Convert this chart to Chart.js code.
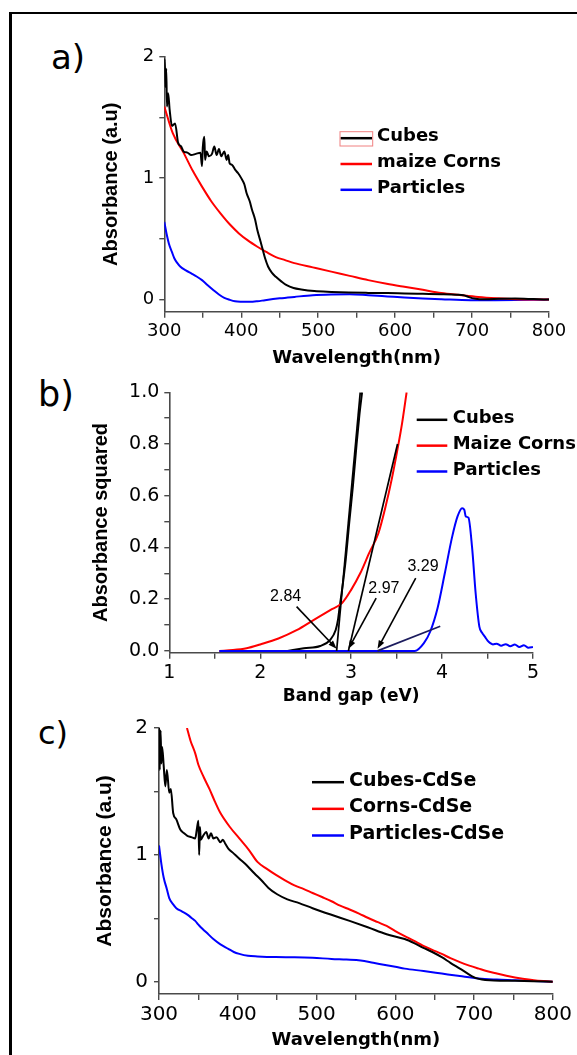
<!DOCTYPE html>
<html>
<head>
<meta charset="utf-8">
<title>UV-Vis absorbance and band gap</title>
<script src="https://cdn.jsdelivr.net/npm/chart.js@4.4.1/dist/chart.umd.min.js"></script>
<style>
  body { margin: 0; background: #fff; width: 577px; height: 1055px; overflow: hidden; position: relative; }
  .frame { position: absolute; left: 9px; top: 12px; width: 620px; height: 1100px; border-left: 3px solid #000; border-top: 2px solid #000; }
  canvas { position: absolute; left: 0; }
  .tag { position: absolute; font-family: 'DejaVu Sans'; line-height: 1; color: #000; }
</style>
</head>
<body>
<div class="frame"></div>
<div class="tag" style="left:51px;top:40px;font-size:34px">a)</div>
<div class="tag" style="left:38px;top:377px;font-size:35px">b)</div>
<div class="tag" style="left:38px;top:717px;font-size:32px">c)</div>
<canvas id="chartA" width="577" height="375" style="top:0"></canvas>
<canvas id="chartB" width="577" height="335" style="top:375px"></canvas>
<canvas id="chartC" width="577" height="345" style="top:710px"></canvas>
<script>
// ---- a) absorbance of the bare structures (wavelength nm / absorbance)
const aCubesNm = [300, 300.5, 301.5, 302.5, 303.5, 305, 307, 310, 314, 318, 322, 325, 330, 335, 341, 347, 349, 350, 352, 353, 355, 358, 362, 365, 368, 371, 374, 378, 381, 383, 385, 388, 392, 396, 400, 404, 407, 411, 414, 418, 421, 425, 428, 431, 435, 440, 445, 452, 459, 468, 478, 495, 517, 540, 565, 590, 612, 636, 660, 680, 689, 696, 703, 710, 718, 735, 756, 780, 800];
const aCubesAbs = [1.95, 1.98, 1.75, 1.9, 1.59, 1.7, 1.56, 1.43, 1.45, 1.29, 1.26, 1.22, 1.21, 1.19, 1.2, 1.21, 1.1, 1.25, 1.34, 1.15, 1.22, 1.18, 1.2, 1.26, 1.19, 1.24, 1.18, 1.22, 1.15, 1.19, 1.12, 1.11, 1.07, 1.04, 1.0, 0.95, 0.876, 0.81, 0.74, 0.66, 0.57, 0.48, 0.41, 0.34, 0.27, 0.22, 0.187, 0.15, 0.118, 0.095, 0.083, 0.07, 0.063, 0.058, 0.055, 0.053, 0.05, 0.047, 0.044, 0.04, 0.036, 0.02, 0.008, 0.003, 0.003, 0.006, 0.008, 0.004, 0];
const aCornsNm = [300, 311, 325, 337, 349, 361, 373, 385, 397, 409, 421, 433, 445, 457, 469, 493, 517, 541, 565, 589, 612, 636, 660, 684, 708, 732, 756, 778, 800];
const aCornsAbs = [1.59, 1.37, 1.21, 1.06, 0.93, 0.81, 0.71, 0.62, 0.545, 0.485, 0.435, 0.39, 0.35, 0.325, 0.30, 0.265, 0.23, 0.195, 0.16, 0.13, 0.105, 0.08, 0.055, 0.038, 0.022, 0.011, 0.003, 0.001, 0];
const aPartNm = [300, 303, 306, 310, 313, 317, 321, 328, 335, 342, 349, 356, 364, 371, 378, 385, 392, 400, 411, 421, 431, 450, 469, 493, 517, 541, 565, 590, 612, 636, 660, 698, 730, 756, 780, 800];
const aPartAbs = [0.64, 0.54, 0.46, 0.39, 0.34, 0.3, 0.27, 0.24, 0.215, 0.19, 0.16, 0.12, 0.077, 0.042, 0.014, -0.002, -0.014, -0.018, -0.019, -0.014, -0.005, 0.01, 0.022, 0.036, 0.042, 0.044, 0.036, 0.026, 0.017, 0.009, 0.003, -0.005, -0.005, -0.004, -0.002, 0];

// ---- b) absorbance squared vs photon energy (eV)
const bCubesEv = [2.3, 2.48, 2.66, 2.77, 2.83, 2.855, 2.874, 2.9, 2.94, 2.98, 3.02, 3.06, 3.09, 3.12];
const bCubesSq = [0, 0.01, 0.019, 0.043, 0.081, 0.12, 0.171, 0.236, 0.352, 0.5, 0.64, 0.8, 0.91, 1.0];
const bCornsEv = [1.55, 1.7, 1.85, 2.0, 2.2, 2.4, 2.59, 2.77, 2.9, 3.0, 3.1, 3.2, 3.3, 3.38, 3.45, 3.51, 3.56, 3.61];
const bCornsSq = [0, 0.003, 0.01, 0.025, 0.048, 0.08, 0.12, 0.158, 0.185, 0.236, 0.3, 0.38, 0.455, 0.56, 0.67, 0.78, 0.88, 1.0];
const bPartEv = [1.55, 2.0, 2.5, 3.0, 3.5, 3.7, 3.8, 3.87, 3.95, 4.03, 4.11, 4.17, 4.22, 4.245, 4.26, 4.29, 4.33, 4.37, 4.41, 4.44, 4.47, 4.5, 4.53, 4.56, 4.6, 4.65, 4.7, 4.75, 4.8, 4.85, 4.9, 4.95, 5.0];
const bPartSq = [0, 0, 0, 0, 0, 0, 0.03, 0.075, 0.165, 0.30, 0.44, 0.52, 0.552, 0.545, 0.52, 0.515, 0.40, 0.22, 0.094, 0.07, 0.055, 0.04, 0.03, 0.025, 0.028, 0.02, 0.026, 0.018, 0.025, 0.015, 0.022, 0.012, 0.015];
// band gaps read from the tangent intercepts, and the upper end of each tangent
const bandGaps = [2.84, 2.97, 3.29];
const tangentTopEv = [3.10, 3.51, 3.98];
const tangentTopSq = [1.0, 0.80, 0.095];

// ---- c) absorbance after CdSe deposition
const cCubesNm = [300, 301, 302, 303, 304, 306, 308, 310, 313, 315, 318, 322, 327, 332, 336, 341, 346, 348, 350, 351, 352, 353, 356, 360, 363, 366, 369, 373, 378, 381, 384, 388, 395, 402, 411, 421, 430, 439, 450, 463, 478, 495, 518, 542, 565, 589, 612, 624, 635, 647, 659, 670, 682, 692, 699, 705, 710, 720, 735, 752, 775, 800];
const cCubesAbs = [2.0, 1.67, 1.98, 1.72, 1.85, 1.7, 1.54, 1.67, 1.49, 1.52, 1.33, 1.28, 1.2, 1.17, 1.15, 1.14, 1.13, 1.2, 1.27, 1.0, 1.22, 1.12, 1.15, 1.18, 1.13, 1.17, 1.13, 1.14, 1.10, 1.12, 1.09, 1.05, 1.01, 0.97, 0.92, 0.855, 0.8, 0.74, 0.69, 0.65, 0.62, 0.58, 0.53, 0.48, 0.43, 0.375, 0.337, 0.305, 0.27, 0.235, 0.194, 0.15, 0.104, 0.065, 0.039, 0.025, 0.018, 0.012, 0.009, 0.008, 0.005, 0];
const cCornsNm = [335.5, 340, 346, 350, 357, 364, 371, 378, 390, 402, 414, 425, 437, 449, 460, 472, 484, 495, 507, 519, 530, 542, 554, 565, 577, 589, 600, 612, 624, 635, 647, 659, 670, 682, 694, 706, 717, 729, 741, 752, 764, 776, 788, 800];
const cCornsAbs = [2.0, 1.9, 1.8, 1.71, 1.61, 1.52, 1.42, 1.33, 1.22, 1.13, 1.04, 0.945, 0.89, 0.84, 0.80, 0.76, 0.73, 0.70, 0.668, 0.635, 0.60, 0.57, 0.538, 0.505, 0.472, 0.44, 0.40, 0.36, 0.322, 0.285, 0.252, 0.22, 0.186, 0.155, 0.128, 0.104, 0.083, 0.065, 0.048, 0.034, 0.022, 0.013, 0.006, 0];
const cPartNm = [300, 303, 306, 310, 313, 318, 322, 329, 336, 341, 346, 350, 353, 360, 369, 378, 388, 395, 402, 413, 425, 448, 472, 495, 519, 538, 556, 572, 589, 600, 612, 636, 659, 682, 706, 729, 752, 776, 800];
const cPartAbs = [1.075, 0.93, 0.82, 0.73, 0.66, 0.61, 0.58, 0.555, 0.53, 0.505, 0.48, 0.45, 0.43, 0.39, 0.337, 0.295, 0.26, 0.235, 0.22, 0.205, 0.20, 0.195, 0.194, 0.19, 0.18, 0.175, 0.168, 0.15, 0.13, 0.118, 0.104, 0.085, 0.065, 0.045, 0.026, 0.018, 0.013, 0.007, 0];

// ticks: labelled (major) and unlabelled (minor)
const nmMajor = [300, 400, 500, 600, 700, 800];
const nmMinor = [350, 450, 550, 650, 750];
const absMajor = [0, 1, 2];
const absMinor = [0.5, 1.5];
const evMajor = [1, 2, 3, 4, 5];
const evMinor = [1.5, 2.5, 3.5, 4.5];
const sqMajor = [0, 0.2, 0.4, 0.6, 0.8, 1.0];
const sqMinor = [0.1, 0.3, 0.5, 0.7, 0.9];

const BLACK = '#000000', RED = '#ff0000', BLUE = '#0000ff', NAVY = '#1c1c5e', AXIS = '#4a4a4a';

const pts = (xs, ys) => xs.map((x, i) => ({ x: x, y: ys[i] }));

function series(label, xs, ys, color, order) {
  return { label: label, data: pts(xs, ys), borderColor: color, backgroundColor: color, order: order };
}

function tangent(i, color) {
  return {
    label: '', data: [{ x: bandGaps[i], y: 0 }, { x: tangentTopEv[i], y: tangentTopSq[i] }],
    borderColor: color, borderWidth: 1.7, order: -1, cubicInterpolationMode: 'default', tension: 0
  };
}

function drawArrow(ctx, x0, y0, x1, y1) {
  const ang = Math.atan2(y1 - y0, x1 - x0);
  const head = 9;
  ctx.beginPath();
  ctx.moveTo(x0, y0);
  ctx.lineTo(x1 - Math.cos(ang) * head * 0.7, y1 - Math.sin(ang) * head * 0.7);
  ctx.stroke();
  ctx.beginPath();
  ctx.moveTo(x1, y1);
  ctx.lineTo(x1 - head * Math.cos(ang - 0.35), y1 - head * Math.sin(ang - 0.35));
  ctx.lineTo(x1 - head * Math.cos(ang + 0.35), y1 - head * Math.sin(ang + 0.35));
  ctx.closePath();
  ctx.fill();
}

// legend rows and band-gap call-outs, drawn on top of the curves
const panelDecor = {
  id: 'panelDecor',
  afterDatasetsDraw(chart, args, opts) {
    const ctx = chart.ctx;
    const lg = opts.legend;
    if (lg) {
      ctx.save();
      ctx.font = lg.font;
      ctx.textBaseline = 'middle';
      ctx.textAlign = 'left';
      lg.items.forEach((idx, k) => {
        const ds = chart.data.datasets[idx];
        const y = lg.y + k * lg.rowH;
        ctx.strokeStyle = ds.borderColor;
        ctx.lineWidth = 2.5;
        ctx.beginPath();
        ctx.moveTo(lg.x0, y + 1.5);
        ctx.lineTo(lg.x1, y + 1.5);
        ctx.stroke();
        ctx.fillStyle = '#000';
        ctx.fillText(ds.label, lg.textX, y);
      });
      if (lg.box) {
        ctx.strokeStyle = '#f08080';
        ctx.lineWidth = 1;
        ctx.strokeRect(lg.box[0], lg.box[1], lg.box[2], lg.box[3]);
      }
      ctx.restore();
    }
    const notes = opts.notes;
    if (notes) {
      const xs = chart.scales.x, ys = chart.scales.y;
      ctx.save();
      ctx.font = '16px "Liberation Sans"';
      ctx.textAlign = 'center';
      ctx.textBaseline = 'middle';
      ctx.fillStyle = '#000';
      ctx.strokeStyle = '#000';
      ctx.lineWidth = 1.6;
      bandGaps.forEach((gap, i) => {
        ctx.fillText(gap.toFixed(2), xs.getPixelForValue(notes.textX[i]), ys.getPixelForValue(notes.textY[i]));
        drawArrow(ctx,
          xs.getPixelForValue(notes.fromX[i]), ys.getPixelForValue(notes.fromY[i]),
          xs.getPixelForValue(gap), ys.getPixelForValue(notes.tipY));
      });
      ctx.restore();
    }
  }
};

function axis(o) {
  return {
    type: 'linear', min: o.min, max: o.max,
    afterBuildTicks: s => { s.ticks = o.major.concat(o.minor).sort((p, q) => p - q).map(v => ({ value: v })); },
    afterFit: s => { if (o.horizontal) s.height = o.size; else s.width = o.size; },
    ticks: {
      autoSkip: false, maxRotation: 0, color: '#000', padding: o.tickPad,
      font: { family: 'DejaVu Sans', size: o.tickSize },
      callback: v => o.major.includes(v) ? (o.fixed ? v.toFixed(o.fixed) : String(v)) : ''
    },
    grid: { drawOnChartArea: false, drawTicks: true, tickLength: o.tickLen, color: AXIS, lineWidth: 1.4 },
    border: { display: true, color: AXIS, width: 1.6 },
    title: {
      display: true, text: o.title, color: '#000', font: o.titleFont,
      padding: o.horizontal ? { top: 0, bottom: o.titlePad } : { top: o.titlePad, bottom: 0 }
    }
  };
}

function makeChart(id, c) {
  return new Chart(document.getElementById(id), {
    type: 'line',
    data: { datasets: c.datasets },
    options: {
      responsive: false,
      animation: false,
      layout: { padding: c.padding },
      elements: {
        point: { radius: 0 },
        line: { borderWidth: 2, cubicInterpolationMode: 'monotone' }
      },
      plugins: { legend: { display: false }, tooltip: { enabled: false }, panelDecor: c.decor },
      scales: { x: axis(c.x), y: axis(c.y) }
    },
    plugins: [panelDecor]
  });
}

const yTitleFont = size => ({ family: 'Liberation Sans', weight: 'bold', size: size });
const xTitleFont = size => ({ family: 'DejaVu Sans', weight: 'bold', size: size });

makeChart('chartA', {
  datasets: [
    series('Cubes', aCubesNm, aCubesAbs, BLACK, 1),
    series('maize Corns', aCornsNm, aCornsAbs, RED, 2),
    series('Particles', aPartNm, aPartAbs, BLUE, 3)
  ],
  padding: { left: 0, right: 28, top: 56.7, bottom: 0 },
  x: { horizontal: true, size: 63.3, min: 300, max: 800, major: nmMajor, minor: nmMinor, tickLen: 6, tickPad: 3, tickSize: 18,
       title: 'Wavelength(nm)', titleFont: xTitleFont(18), titlePad: 5.9 },
  y: { size: 164.3, min: -0.1, max: 2, major: absMajor, minor: absMinor, tickLen: 5, tickPad: 5, tickSize: 18,
       title: 'Absorbance (a.u)', titleFont: yTitleFont(20), titlePad: 99.7 },
  decor: { legend: { items: [0, 1, 2], x0: 340.5, x1: 372, textX: 377, y: 136.7, rowH: 25.8,
                     font: 'bold 18px "DejaVu Sans"', box: [340, 131.7, 32.7, 14.3] } }
});

makeChart('chartB', {
  datasets: [
    tangent(0, BLACK),
    tangent(1, BLACK),
    tangent(2, NAVY),
    series('Cubes', bCubesEv, bCubesSq, BLACK, 3),
    series('Maize Corns', bCornsEv, bCornsSq, RED, 2),
    series('Particles', bPartEv, bPartSq, BLUE, 1)
  ],
  padding: { left: 0, right: 44, top: 17.3, bottom: 0 },
  x: { horizontal: true, size: 57.3, min: 1, max: 5, major: evMajor, minor: evMinor, tickLen: 6, tickPad: 3, tickSize: 19,
       title: 'Band gap (eV)', titleFont: xTitleFont(17), titlePad: 2.8 },
  y: { size: 169.3, min: -0.007, max: 1.0, major: sqMajor, minor: sqMinor, tickLen: 5, tickPad: 5, tickSize: 19, fixed: 1,
       title: 'Absorbance squared', titleFont: yTitleFont(20), titlePad: 89 },
  decor: {
    legend: { items: [3, 4, 5], x0: 416.7, x1: 447.3, textX: 452.7, y: 43.3, rowH: 25.85, font: 'bold 18px "DejaVu Sans"' },
    notes: { textX: [2.28, 3.36, 3.79], textY: [0.21, 0.242, 0.326],
             fromX: [2.40, 3.275, 3.71], fromY: [0.171, 0.204, 0.281], tipY: 0.008 }
  }
});

makeChart('chartC', {
  datasets: [
    series('Cubes-CdSe', cCubesNm, cCubesAbs, BLACK, 1),
    series('Corns-CdSe', cCornsNm, cCornsAbs, RED, 2),
    series('Particles-CdSe', cPartNm, cPartAbs, BLUE, 3)
  ],
  padding: { left: 0, right: 24.2, top: 14.3, bottom: 0 },
  x: { horizontal: true, size: 61, min: 300, max: 800, major: nmMajor, minor: nmMinor, tickLen: 6, tickPad: 3, tickSize: 20,
       title: 'Wavelength(nm)', titleFont: xTitleFont(18), titlePad: 4.2 },
  y: { size: 159, min: -0.096, max: 2, major: absMajor, minor: absMinor, tickLen: 5, tickPad: 6, tickSize: 20,
       title: 'Absorbance (a.u)', titleFont: yTitleFont(21), titlePad: 92.4 },
  decor: { legend: { items: [0, 1, 2], x0: 312, x1: 344, textX: 349, y: 70.7, rowH: 26.65, font: 'bold 19px "DejaVu Sans"' } }
});
</script>
</body>
</html>
